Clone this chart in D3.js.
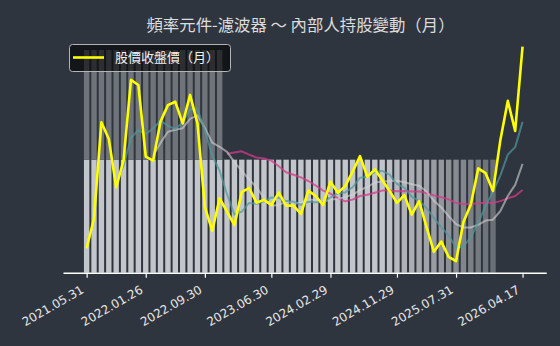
<!DOCTYPE html>
<html lang="zh-Hant">
<head>
<meta charset="UTF-8">
<title>頻率元件-濾波器 ～ 內部人持股變動（月）</title>
<script src="https://cdn.jsdelivr.net/npm/d3@7"></script>
<style>
    body { margin: 0; background: #2f353f; }
    svg { display: block; }
    .cjk { text-spacing-trim: space-all; font-kerning: none; }
</style>
</head>
<body>
<script>
    var w = 560;
    var h = 346;

    // month-end dates (x categories)
    var months = [
        "2021.05.31","2021.06.30","2021.07.30","2021.08.31","2021.09.30","2021.10.29","2021.11.30","2021.12.30",
        "2022.01.26","2022.02.25","2022.03.31","2022.04.29","2022.05.31","2022.06.30","2022.07.29","2022.08.31",
        "2022.09.30","2022.10.31","2022.11.30","2022.12.30",
        "2023.01.31","2023.02.24","2023.03.31","2023.04.28","2023.05.31","2023.06.30","2023.07.31","2023.08.31",
        "2023.09.28","2023.10.31","2023.11.30","2023.12.29",
        "2024.01.31","2024.02.29","2024.03.29","2024.04.30","2024.05.31","2024.06.28","2024.07.31","2024.08.30",
        "2024.09.30","2024.10.31","2024.11.29","2024.12.31",
        "2025.01.22","2025.02.27","2025.03.31","2025.04.30","2025.05.30","2025.06.30","2025.07.31","2025.08.29",
        "2025.09.30","2025.10.31","2025.11.28","2025.12.31",
        "2026.01.30","2026.02.26","2026.03.31","2026.04.17"
    ];
    var tickMonths = ["2021.05.31","2022.01.26","2022.09.30","2023.06.30","2024.02.29","2024.11.29","2025.07.31","2026.04.17"];

    // monthly close
    var price = [10.6, 20.6, 52.6, 47.0, 30.9, 40.0, 66.7, 65.0, 41.1, 39.8,
        52.8, 58.3, 59.4, 52.2, 61.7, 52.2, 24.4, 16.4, 27.2, 22.8,
        18.3, 29.4, 30.6, 25.8, 26.7, 25.0, 29.1, 24.8, 24.8, 22.0,
        29.8, 28.0, 25.0, 32.8, 29.1, 31.3, 36.1, 41.3, 34.4, 36.9,
        33.3, 29.7, 25.7, 28.3, 21.8, 26.3, 17.7, 9.4, 12.8, 7.7,
        6.3, 19.3, 25.2, 37.2, 35.6, 29.7, 46.7, 59.7, 49.7, 77.8];

    var ma5 = [null, null, null, null, 32.3, 38.2, 47.4, 49.9, 48.7, 50.5,
        53.1, 51.4, 50.3, 52.5, 56.9, 56.8, 50.0, 41.4, 36.4, 28.6,
        21.8, 22.8, 25.7, 25.4, 26.2, 27.5, 27.4, 26.3, 26.1, 25.1,
        26.1, 25.9, 25.9, 27.5, 28.9, 29.2, 30.9, 34.1, 34.4, 36.0,
        36.4, 35.1, 32.0, 30.8, 27.8, 26.4, 24.0, 20.7, 17.6, 14.8,
        10.8, 11.1, 14.3, 19.1, 24.7, 29.4, 34.9, 41.8, 44.3, 52.7];

    var ma10 = [null, null, null, null, null, null, null, null, null, 41.4,
        45.7, 49.4, 50.1, 50.6, 53.7, 54.9, 50.7, 45.8, 44.4, 42.7,
        39.3, 36.4, 33.5, 30.9, 27.4, 24.7, 25.1, 26.0, 25.7, 25.7,
        26.8, 26.7, 26.1, 26.8, 27.0, 27.7, 28.4, 30.0, 31.0, 32.5,
        32.8, 33.0, 33.1, 32.6, 31.9, 31.4, 29.5, 26.4, 24.2, 21.3,
        18.6, 17.5, 17.5, 18.4, 19.8, 20.1, 23.0, 28.0, 31.7, 38.7];

    var ma20 = [null, null, null, null, null, null, null, null, null, null,
        null, null, null, null, null, null, null, null, null, 42.1,
        42.5, 42.9, 41.8, 40.8, 40.5, 39.8, 37.9, 35.9, 35.1, 34.2,
        33.0, 31.5, 29.8, 28.8, 27.2, 26.2, 26.8, 28.0, 28.4, 29.1,
        29.8, 29.8, 29.6, 29.7, 29.5, 29.5, 29.0, 28.2, 27.6, 26.9,
        25.7, 25.3, 25.3, 25.5, 25.8, 25.7, 26.3, 27.2, 28.0, 30.0];

    // insider holdings (%), two stacked parts, data through 2025.12
    var holdLow = [20.3, 20.3, 20.3, 20.3, 20.3, 20.3, 20.3, 20.3, 20.3, 20.3,
        20.3, 20.3, 20.3, 20.3, 20.3, 20.3, 20.3, 20.3, 20.3, 20.3,
        20.3, 20.3, 20.3, 20.3, 20.3, 20.3, 20.3, 20.3, 20.3, 20.3,
        20.3, 20.3, 20.3, 20.3, 20.3, 20.3, 20.3, 20.3, 20.3, 20.3,
        20.3, 20.3, 20.3, 20.3, 20.3, 20.3, 20.3, 20.3, 20.3, 20.3,
        20.3, 20.3, 20.3, 20.3, 20.3, 20.3];
    var holdHigh = [19.7, 19.7, 19.7, 19.7, 19.7, 19.7, 19.7, 19.7, 19.7, 19.7,
        19.7, 19.7, 19.7, 19.7, 19.7, 19.7, 19.7, 19.7, 19.7, 0,
        0, 0, 0, 0, 0, 0, 0, 0, 0, 0,
        0, 0, 0, 0, 0, 0, 0, 0, 0, 0,
        0, 0, 0, 0, 0, 0, 0, 0, 0, 0,
        0, 0, 0, 0, 0, 0];

    var cjk = "'Noto Sans CJK TC', sans-serif";

    var svg = d3.select("body").append("svg")
        .attr("width", w)
        .attr("height", h);

    svg.append("rect")
        .attr("width", w).attr("height", h)
        .attr("fill", "#2f353f");

    var xScale = d3.scalePoint()
        .domain(months)
        .range([63, 546.2])
        .padding(3.2);
    var barW = xScale.step() * 0.73;

    var yBar = d3.scaleLinear().domain([0, 40]).range([272.7, 50]);
    var yPrice = d3.scaleLinear().domain([0, 100]).range([280, -20]);

    // fade of the latest bars
    function barOpacity(i) {
        return i < 40 ? 1 : 1 - 0.6 * (i - 40) / 15;
    }

    var barData = holdLow.map(function(v, i) {
        return { m: months[i], low: v, high: holdHigh[i], i: i };
    });

    var bars = svg.append("g");
    bars.selectAll("rect.low")
        .data(barData)
        .enter()
        .append("rect")
        .attr("class", "low")
        .attr("x", function(d) { return xScale(d.m) - barW / 2; })
        .attr("y", function(d) { return yBar(d.low); })
        .attr("width", barW)
        .attr("height", function(d) { return yBar(0) - yBar(d.low); })
        .attr("fill", "#c2c5c9")
        .attr("opacity", function(d) { return barOpacity(d.i); });

    bars.selectAll("rect.high")
        .data(barData.filter(function(d) { return d.high > 0; }))
        .enter()
        .append("rect")
        .attr("class", "high")
        .attr("x", function(d) { return xScale(d.m) - barW / 2; })
        .attr("y", function(d) { return yBar(d.low + d.high); })
        .attr("width", barW)
        .attr("height", function(d) { return yBar(d.low) - yBar(d.low + d.high); })
        .attr("fill", "#6f737a");

    // lines
    function makeLine(arr) {
        return d3.line()
            .defined(function(d) { return d != null; })
            .x(function(d, i) { return xScale(months[i]); })
            .y(function(d) { return yPrice(d); })(arr);
    }

    svg.append("path")
        .attr("d", makeLine(ma20))
        .attr("fill", "none")
        .attr("stroke", "#d63a8a")
        .attr("stroke-opacity", 0.75)
        .attr("stroke-width", 2)
        .attr("stroke-linejoin", "round");

    svg.append("path")
        .attr("d", makeLine(ma10))
        .attr("fill", "none")
        .attr("stroke", "#d3d3d3")
        .attr("stroke-opacity", 0.6)
        .attr("stroke-width", 2)
        .attr("stroke-linejoin", "round");

    svg.append("path")
        .attr("d", makeLine(ma5))
        .attr("fill", "none")
        .attr("stroke", "#4f9a9c")
        .attr("stroke-opacity", 0.7)
        .attr("stroke-width", 2)
        .attr("stroke-linejoin", "round");

    svg.append("path")
        .attr("d", makeLine(price))
        .attr("fill", "none")
        .attr("stroke", "#ffff00")
        .attr("stroke-width", 2.6)
        .attr("stroke-linejoin", "round");

    // x axis
    var xAxis = d3.axisBottom(xScale)
        .tickValues(tickMonths)
        .tickSize(5)
        .tickSizeOuter(0);

    var gx = svg.append("g")
        .attr("transform", "translate(0,272.7)")
        .call(xAxis);
    gx.select(".domain").attr("stroke", "#ffffff").attr("stroke-width", 1.5);
    gx.selectAll(".tick line").attr("stroke", "#ffffff").attr("stroke-width", 1.2);
    gx.selectAll(".tick text")
        .attr("x", 0)
        .attr("y", 0)
        .attr("dy", "0.76em")
        .attr("text-anchor", "end")
        .attr("transform", "translate(-7,11.5) rotate(-30)")
        .attr("fill", "#e6e6e6")
        .attr("font-family", "'DejaVu Sans', sans-serif")
        .attr("font-size", "12px");

    // title
    svg.append("text")
        .attr("class", "cjk")
        .attr("x", 300.5)
        .attr("y", 31)
        .attr("text-anchor", "middle")
        .attr("font-family", cjk)
        .attr("font-size", "16.4px")
        .attr("fill", "#dcdcdc")
        .text("頻率元件-濾波器 ～ 內部人持股變動（月）");

    // legend
    var lg = svg.append("g");
    lg.append("rect")
        .attr("x", 69.5).attr("y", 44.5)
        .attr("width", 161).attr("height", 27)
        .attr("rx", 3)
        .attr("fill", "#000000")
        .attr("fill-opacity", 0.6)
        .attr("stroke", "#b4b4b4")
        .attr("stroke-width", 1);
    lg.append("line")
        .attr("x1", 73).attr("x2", 104)
        .attr("y1", 57.5).attr("y2", 57.5)
        .attr("stroke", "#ffff00")
        .attr("stroke-width", 2.6);
    lg.append("text")
        .attr("class", "cjk")
        .attr("x", 115)
        .attr("y", 62)
        .attr("font-family", cjk)
        .attr("font-size", "13px")
        .attr("fill", "#f0f0f0")
        .text("股價收盤價（月）");
</script>
</body>
</html>
